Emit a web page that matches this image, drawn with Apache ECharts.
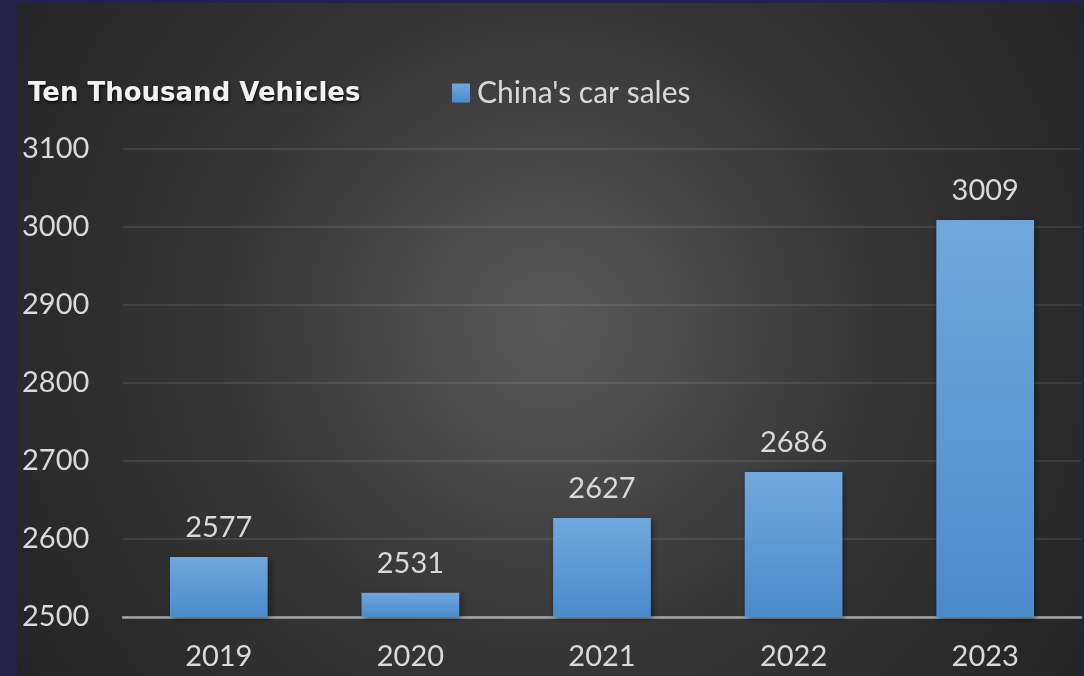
<!DOCTYPE html>
<html>
<head>
<meta charset="utf-8">
<script src="https://cdn.jsdelivr.net/npm/echarts@6/dist/echarts.min.js"></script>
<style>
  html, body { margin: 0; padding: 0; background: #22224a; }
  #chart { width: 1084px; height: 676px; }
</style>
</head>
<body>
<div id="chart"></div>
<script>
// Annual car sales in China, in ten thousand vehicles
const years = ['2019', '2020', '2021', '2022', '2023'];
const sales = [2577, 2531, 2627, 2686, 3009];
const seriesName = "China's car sales";
const unitLabel = 'Ten Thousand Vehicles';

const chart = echarts.init(document.getElementById('chart'), null, { renderer: 'canvas' });

const textColor = '#d9d9d9';
const numFont = 'Lato';

chart.setOption({
  backgroundColor: 'transparent',
  animation: false,
  graphic: [
    {
      // dark panel with a soft radial highlight
      type: 'rect',
      z: -10,
      silent: true,
      shape: { x: 17, y: 3, width: 1065, height: 673, r: [0, 8, 0, 0] },
      style: {
        fill: {
          type: 'radial', x: 0.5, y: 0.48, r: 0.95,
          colorStops: [
            { offset: 0, color: '#5a5a5a' },
            { offset: 0.5, color: '#363636' },
            { offset: 0.8, color: '#2b2b2b' },
            { offset: 1, color: '#242424' }
          ]
        }
      }
    },
    {
      type: 'text',
      left: 28,
      top: 81,
      silent: true,
      style: {
        text: unitLabel,
        fill: '#f2f2f2',
        font: 'bold 26px "DejaVu Sans"',
        textShadowColor: 'rgba(0,0,0,0.7)',
        textShadowBlur: 3,
        textShadowOffsetX: 1,
        textShadowOffsetY: 2
      }
    }
  ],
  legend: {
    data: [seriesName],
    left: 447,
    top: 73,
    icon: 'rect',
    itemWidth: 18,
    itemHeight: 19,
    textStyle: { color: textColor, fontSize: 30, fontFamily: numFont, padding: [0, 0, 0, 2] }
  },
  grid: { left: 123, right: 3, top: 149, bottom: 59 },
  xAxis: {
    type: 'category',
    data: years,
    axisLine: { lineStyle: { color: '#a6a6a6', width: 2.5 } },
    axisTick: { show: false },
    axisLabel: { color: textColor, fontSize: 29, fontFamily: numFont, margin: 25 }
  },
  yAxis: {
    type: 'value',
    min: 2500,
    max: 3100,
    interval: 100,
    axisLine: { show: false },
    axisTick: { show: false },
    axisLabel: {
      color: textColor, fontSize: 29, fontFamily: numFont, align: 'left', margin: 101,
      formatter: (v) => String(v)
    },
    splitLine: { lineStyle: { color: 'rgba(255,255,255,0.13)', width: 1.5 } }
  },
  series: [{
    name: seriesName,
    type: 'bar',
    data: sales,
    barWidth: '51%',
    itemStyle: {
      color: {
        type: 'linear', x: 0, y: 0, x2: 0, y2: 1,
        colorStops: [
          { offset: 0, color: '#70a8de' },
          { offset: 1, color: '#4a8bcc' }
        ]
      },
      shadowColor: 'rgba(0,0,0,0.45)',
      shadowBlur: 6,
      shadowOffsetX: 2,
      shadowOffsetY: 2
    },
    label: {
      show: true,
      position: 'top',
      distance: 15,
      color: textColor,
      fontSize: 29,
      fontFamily: numFont
    }
  }]
});
</script>
</body>
</html>
